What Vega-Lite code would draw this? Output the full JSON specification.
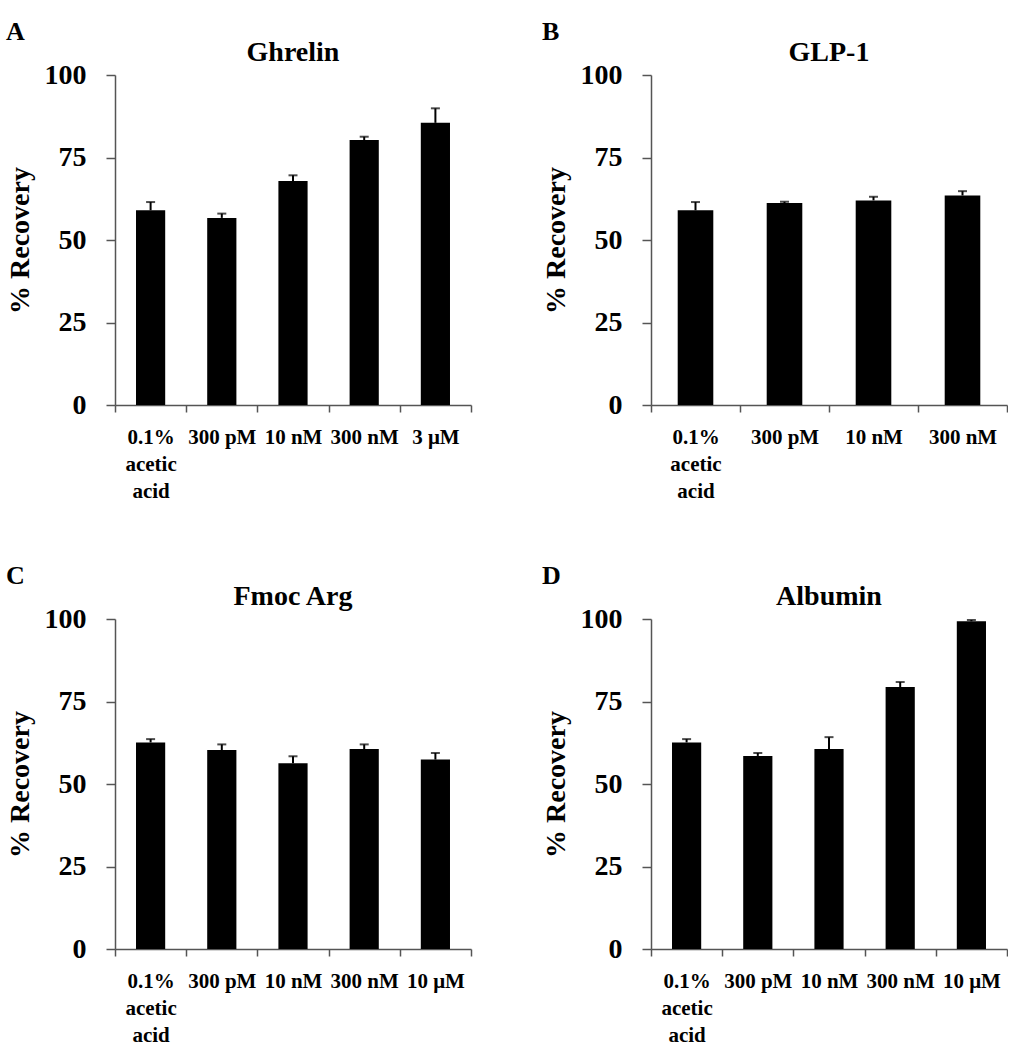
{
  "$schema": "https://vega.github.io/schema/vega-lite/v6.json",
  "background": "white",
  "padding": {"left": 6, "top": 19, "right": 0, "bottom": 0},
  "datasets": {
    "ghrelin": [
      {"condition": "0.1% acetic acid", "value": 59.0, "upper": 61.5},
      {"condition": "300 pM", "value": 56.7, "upper": 58.0},
      {"condition": "10 nM", "value": 67.9, "upper": 69.6},
      {"condition": "300 nM", "value": 80.3, "upper": 81.3},
      {"condition": "3 μM", "value": 85.5, "upper": 89.9}
    ],
    "glp1": [
      {"condition": "0.1% acetic acid", "value": 59.0, "upper": 61.5},
      {"condition": "300 pM", "value": 61.2, "upper": 61.6},
      {"condition": "10 nM", "value": 62.0, "upper": 63.1},
      {"condition": "300 nM", "value": 63.5, "upper": 64.8}
    ],
    "fmoc": [
      {"condition": "0.1% acetic acid", "value": 62.6, "upper": 63.6},
      {"condition": "300 pM", "value": 60.3, "upper": 62.0},
      {"condition": "10 nM", "value": 56.3, "upper": 58.4},
      {"condition": "300 nM", "value": 60.6, "upper": 62.0},
      {"condition": "10 μM", "value": 57.4, "upper": 59.4}
    ],
    "albumin": [
      {"condition": "0.1% acetic acid", "value": 62.6, "upper": 63.6},
      {"condition": "300 pM", "value": 58.5, "upper": 59.4},
      {"condition": "10 nM", "value": 60.6, "upper": 64.2},
      {"condition": "300 nM", "value": 79.4, "upper": 80.9},
      {"condition": "10 μM", "value": 99.3, "upper": 99.7}
    ]
  },
  "config": {
    "font": "Liberation Serif, Times New Roman, serif",
    "view": {"stroke": null},
    "axis": {
      "labelFont": "Liberation Serif, Times New Roman, serif", "labelFontWeight": "bold", "labelColor": "black",
      "domainColor": "#555", "tickColor": "#555", "domainWidth": 1.5, "tickWidth": 1.5, "grid": false,
      "titleFont": "Liberation Serif, Times New Roman, serif", "titleFontWeight": "bold", "titleColor": "black"
    },
    "title": {"font": "Liberation Serif, Times New Roman, serif", "fontWeight": "bold", "color": "black"}
  },
  "columns": 2,
  "spacing": {"row": 62, "column": 70},
  "concat": [
    {
      "title": {"text": "A", "anchor": "start", "fontSize": 26, "frame": "bounds", "offset": -6},
      "vconcat": [{
        "title": {"text": "Ghrelin", "fontSize": 28, "anchor": "middle", "offset": -6},
        "width": 356, "height": 330,
        "data": {"name": "ghrelin"},
        "encoding": {
          "x": {"field": "condition", "type": "nominal", "sort": null,
            "scale": {"paddingInner": 0, "paddingOuter": 0},
            "axis": {"title": null, "labelAngle": 0, "labelFontSize": 21, "labelLineHeight": 27, "labelPadding": 14, "tickSize": 7, "tickBand": "extent", "labelOverlap": false, "labelBound": false, "labelLimit": 200,
              "labelExpr": "datum.value == '0.1% acetic acid' ? ['0.1%', 'acetic', 'acid'] : datum.value"}},
          "y": {"field": "value", "type": "quantitative", "scale": {"domain": [0, 100]},
            "axis": {"title": "% Recovery", "values": [0, 25, 50, 75, 100], "labelFontSize": 28, "tickSize": 9, "labelPadding": 20, "titleFontSize": 28, "titlePadding": 10}}
        },
        "layer": [
          {"mark": {"type": "bar", "color": "black", "width": {"band": 0.41}}},
          {"mark": {"type": "rule", "strokeWidth": 2, "color": "black"}, "encoding": {"y2": {"field": "upper"}}},
          {"mark": {"type": "tick", "size": 9, "thickness": 2, "color": "black"}, "encoding": {"y": {"field": "upper", "type": "quantitative"}}}
        ]
      }]
    },
    {
      "title": {"text": "B", "anchor": "start", "fontSize": 26, "frame": "bounds", "offset": -6},
      "vconcat": [{
        "title": {"text": "GLP-1", "fontSize": 28, "anchor": "middle", "offset": -6},
        "width": 356, "height": 330,
        "data": {"name": "glp1"},
        "encoding": {
          "x": {"field": "condition", "type": "nominal", "sort": null,
            "scale": {"paddingInner": 0, "paddingOuter": 0},
            "axis": {"title": null, "labelAngle": 0, "labelFontSize": 21, "labelLineHeight": 27, "labelPadding": 14, "tickSize": 7, "tickBand": "extent", "labelOverlap": false, "labelBound": false, "labelLimit": 200,
              "labelExpr": "datum.value == '0.1% acetic acid' ? ['0.1%', 'acetic', 'acid'] : datum.value"}},
          "y": {"field": "value", "type": "quantitative", "scale": {"domain": [0, 100]},
            "axis": {"title": "% Recovery", "values": [0, 25, 50, 75, 100], "labelFontSize": 28, "tickSize": 9, "labelPadding": 20, "titleFontSize": 28, "titlePadding": 10}}
        },
        "layer": [
          {"mark": {"type": "bar", "color": "black", "width": {"band": 0.4}}},
          {"mark": {"type": "rule", "strokeWidth": 2, "color": "black"}, "encoding": {"y2": {"field": "upper"}}},
          {"mark": {"type": "tick", "size": 9, "thickness": 2, "color": "black"}, "encoding": {"y": {"field": "upper", "type": "quantitative"}}}
        ]
      }]
    },
    {
      "title": {"text": "C", "anchor": "start", "fontSize": 26, "frame": "bounds", "offset": -6},
      "vconcat": [{
        "title": {"text": "Fmoc Arg", "fontSize": 28, "anchor": "middle", "offset": -6},
        "width": 356, "height": 330,
        "data": {"name": "fmoc"},
        "encoding": {
          "x": {"field": "condition", "type": "nominal", "sort": null,
            "scale": {"paddingInner": 0, "paddingOuter": 0},
            "axis": {"title": null, "labelAngle": 0, "labelFontSize": 21, "labelLineHeight": 27, "labelPadding": 14, "tickSize": 7, "tickBand": "extent", "labelOverlap": false, "labelBound": false, "labelLimit": 200,
              "labelExpr": "datum.value == '0.1% acetic acid' ? ['0.1%', 'acetic', 'acid'] : datum.value"}},
          "y": {"field": "value", "type": "quantitative", "scale": {"domain": [0, 100]},
            "axis": {"title": "% Recovery", "values": [0, 25, 50, 75, 100], "labelFontSize": 28, "tickSize": 9, "labelPadding": 20, "titleFontSize": 28, "titlePadding": 10}}
        },
        "layer": [
          {"mark": {"type": "bar", "color": "black", "width": {"band": 0.41}}},
          {"mark": {"type": "rule", "strokeWidth": 2, "color": "black"}, "encoding": {"y2": {"field": "upper"}}},
          {"mark": {"type": "tick", "size": 9, "thickness": 2, "color": "black"}, "encoding": {"y": {"field": "upper", "type": "quantitative"}}}
        ]
      }]
    },
    {
      "title": {"text": "D", "anchor": "start", "fontSize": 26, "frame": "bounds", "offset": -6},
      "vconcat": [{
        "title": {"text": "Albumin", "fontSize": 28, "anchor": "middle", "offset": -6},
        "width": 356, "height": 330,
        "data": {"name": "albumin"},
        "encoding": {
          "x": {"field": "condition", "type": "nominal", "sort": null,
            "scale": {"paddingInner": 0, "paddingOuter": 0},
            "axis": {"title": null, "labelAngle": 0, "labelFontSize": 21, "labelLineHeight": 27, "labelPadding": 14, "tickSize": 7, "tickBand": "extent", "labelOverlap": false, "labelBound": false, "labelLimit": 200,
              "labelExpr": "datum.value == '0.1% acetic acid' ? ['0.1%', 'acetic', 'acid'] : datum.value"}},
          "y": {"field": "value", "type": "quantitative", "scale": {"domain": [0, 100]},
            "axis": {"title": "% Recovery", "values": [0, 25, 50, 75, 100], "labelFontSize": 28, "tickSize": 9, "labelPadding": 20, "titleFontSize": 28, "titlePadding": 10}}
        },
        "layer": [
          {"mark": {"type": "bar", "color": "black", "width": {"band": 0.41}}},
          {"mark": {"type": "rule", "strokeWidth": 2, "color": "black"}, "encoding": {"y2": {"field": "upper"}}},
          {"mark": {"type": "tick", "size": 9, "thickness": 2, "color": "black"}, "encoding": {"y": {"field": "upper", "type": "quantitative"}}}
        ]
      }]
    }
  ]
}
